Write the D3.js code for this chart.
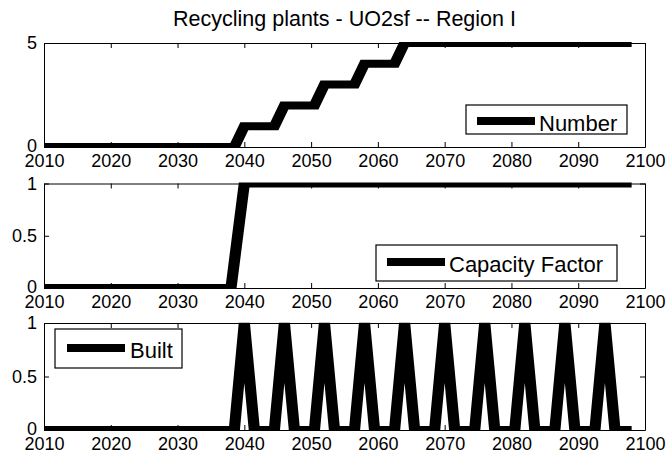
<!DOCTYPE html>
<html>
<head>
<meta charset="utf-8">
<script src="https://cdn.jsdelivr.net/npm/d3@7"></script>
<style>
  html, body { margin: 0; padding: 0; background: #fff; }
  svg { display: block; font-family: "Liberation Sans", Arial, sans-serif; }
</style>
</head>
<body>
<svg id="chart" width="668" height="460"></svg>
<script>
// ---- data ----
const titleText = "Recycling plants - UO2sf -- Region I";
const xTicks = [2010, 2020, 2030, 2040, 2050, 2060, 2070, 2080, 2090, 2100];

const numberYears  = [2010, 2038.5, 2040, 2044.5, 2046, 2050.5, 2052, 2056.5, 2058, 2062.5, 2064, 2098];
const numberValues = [0,    0,      1,    1,      2,    2,      3,    3,      4,    4,      5,    5];

const cfYears  = [2010, 2038, 2040, 2098];
const cfValues = [0,    0,    1,    1];

const builtYears  = [2010,
  2038.5, 2040, 2041.5,
  2044.5, 2046, 2047.5,
  2050.5, 2052, 2053.5,
  2056.5, 2058, 2059.5,
  2062.5, 2064, 2065.5,
  2068.5, 2070, 2071.5,
  2074.5, 2076, 2077.5,
  2080.5, 2082, 2083.5,
  2086.5, 2088, 2089.5,
  2092.5, 2094, 2095.5,
  2098];
const builtValues = [0,
  0, 1, 0,
  0, 1, 0,
  0, 1, 0,
  0, 1, 0,
  0, 1, 0,
  0, 1, 0,
  0, 1, 0,
  0, 1, 0,
  0, 1, 0,
  0, 1, 0,
  0];

const numberYTicks = [0, 5];
const unitYTicks = [0, 0.5, 1];

// ---- layout ----
const svg = d3.select("#chart");
const left = 44, right = 645;
const sx = 1.4;          // thick strokes look wider horizontally in the reference
const lineW = 8;

const panels = [
  { years: numberYears, values: numberValues, yDomain: [0, 5], yTicks: numberYTicks,
    top: 43, bottom: 147, label: "Number",
    legend: { x0: 466, x1: 627, y0: 105, y1: 134, lx0: 477, lx1: 535, ly: 121, tx: 539, ty: 131 } },
  { years: cfYears, values: cfValues, yDomain: [0, 1], yTicks: unitYTicks,
    top: 183.5, bottom: 288, label: "Capacity Factor",
    legend: { x0: 376, x1: 617, y0: 245, y1: 281, lx0: 387, lx1: 445, ly: 262, tx: 449, ty: 272 } },
  { years: builtYears, values: builtValues, yDomain: [0, 1], yTicks: unitYTicks,
    top: 323, bottom: 430, label: "Built",
    legend: { x0: 55, x1: 182, y0: 329, y1: 368, lx0: 67, lx1: 125, ly: 348, tx: 130, ty: 358 } }
];

svg.append("text")
  .attr("x", (left + right) / 2)
  .attr("y", 26)
  .attr("text-anchor", "middle")
  .attr("font-size", 21.5)
  .attr("fill", "#000")
  .text(titleText);

const x = d3.scaleLinear().domain([2010, 2100]).range([left, right]);
const xs = d3.scaleLinear().domain([2010, 2100]).range([left / sx, right / sx]);
const fmt = d => (d === 0.5 ? "0.5" : String(d));

panels.forEach((p, i) => {
  const y = d3.scaleLinear().domain(p.yDomain).range([p.bottom, p.top]);
  const g = svg.append("g");

  g.append("rect").attr("x", left).attr("y", p.top)
    .attr("width", right - left).attr("height", p.bottom - p.top)
    .attr("fill", "#fff");

  const cid = "clip" + i;
  svg.append("clipPath").attr("id", cid).append("rect")
    .attr("x", (left - 1) / sx).attr("y", p.top - 1)
    .attr("width", (right - left + 2) / sx).attr("height", p.bottom - p.top + 2);

  const data = p.years.map((yr, k) => [yr, p.values[k]]);
  const line = d3.line().x(d => xs(d[0])).y(d => y(d[1]));
  g.append("g").attr("transform", `scale(${sx},1)`)
    .append("path")
    .attr("d", line(data))
    .attr("clip-path", `url(#${cid})`)
    .attr("fill", "none")
    .attr("stroke", "#000")
    .attr("stroke-width", lineW)
    .attr("stroke-linejoin", "miter")
    .attr("stroke-miterlimit", 10);

  const axFont = 18;
  const ab = g.append("g").attr("transform", `translate(0,${p.bottom})`)
    .call(d3.axisBottom(x).tickValues(xTicks).tickFormat(d3.format("d"))
      .tickSizeInner(-5).tickSizeOuter(0).tickPadding(7));
  const at = g.append("g").attr("transform", `translate(0,${p.top})`)
    .call(d3.axisTop(x).tickValues(xTicks).tickFormat("")
      .tickSizeInner(-5).tickSizeOuter(0));
  const al = g.append("g").attr("transform", `translate(${left},0)`)
    .call(d3.axisLeft(y).tickValues(p.yTicks).tickFormat(fmt)
      .tickSizeInner(-5).tickSizeOuter(0).tickPadding(7));
  const ar = g.append("g").attr("transform", `translate(${right},0)`)
    .call(d3.axisRight(y).tickValues(p.yTicks).tickFormat("")
      .tickSizeInner(-5).tickSizeOuter(0));

  [ab, at, al, ar].forEach(a => {
    a.selectAll("path.domain").attr("stroke", "#000").attr("stroke-width", 1);
    a.selectAll(".tick line").attr("stroke", "#000").attr("stroke-width", 1);
    a.selectAll("text").attr("font-size", axFont).attr("fill", "#000")
      .attr("font-family", "'Liberation Sans', Arial, sans-serif");
  });
  al.selectAll(".tick text").filter(d => d === 0).attr("dy", "0.25em");

  const L = p.legend;
  const lg = g.append("g");
  lg.append("rect").attr("x", L.x0).attr("y", L.y0)
    .attr("width", L.x1 - L.x0).attr("height", L.y1 - L.y0)
    .attr("fill", "#fff").attr("stroke", "#000").attr("stroke-width", 1.2);
  lg.append("line").attr("x1", L.lx0).attr("x2", L.lx1)
    .attr("y1", L.ly).attr("y2", L.ly)
    .attr("stroke", "#000").attr("stroke-width", 8);
  lg.append("text").attr("x", L.tx).attr("y", L.ty)
    .attr("font-size", 22).attr("fill", "#000").text(p.label);
});
</script>
</body>
</html>
